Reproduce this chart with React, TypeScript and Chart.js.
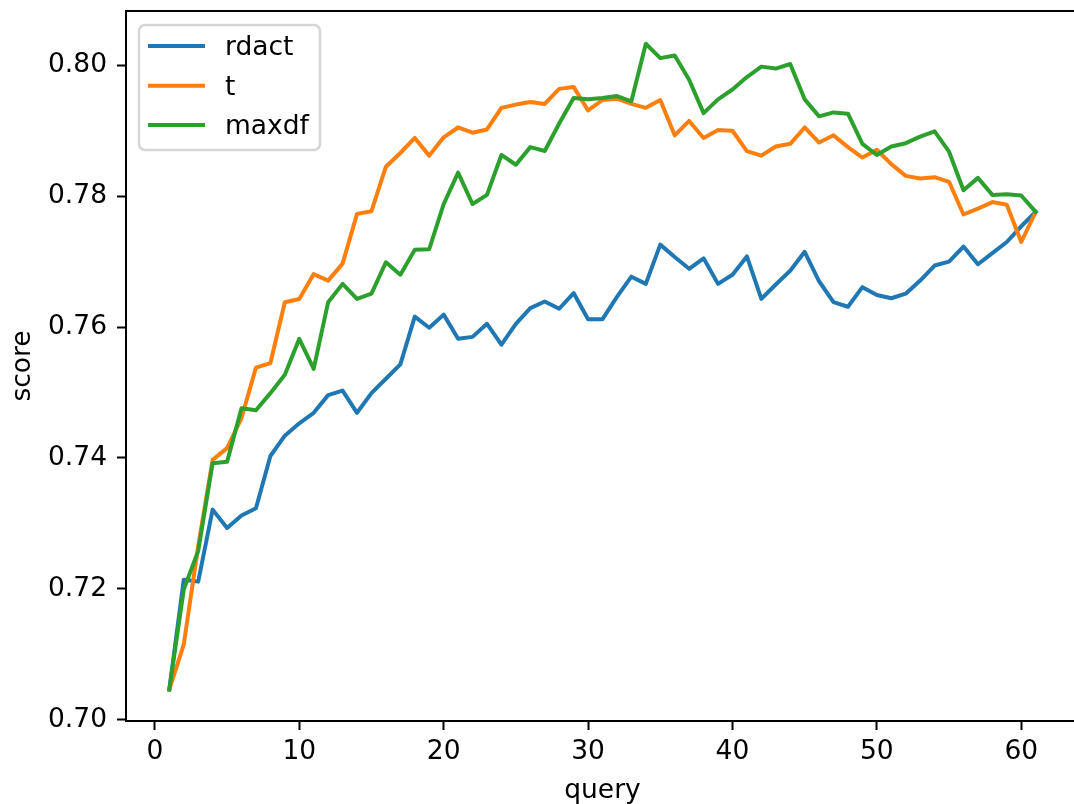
import React, { useEffect, useRef } from "react";
import { Chart, registerables } from "chart.js";

Chart.register(...registerables);

const queries = [
  1, 2, 3, 4, 5, 6, 7, 8, 9, 10, 11, 12, 13, 14, 15, 16, 17, 18, 19, 20,
  21, 22, 23, 24, 25, 26, 27, 28, 29, 30, 31, 32, 33, 34, 35, 36, 37, 38, 39, 40,
  41, 42, 43, 44, 45, 46, 47, 48, 49, 50, 51, 52, 53, 54, 55, 56, 57, 58, 59, 60, 61,
];

const rdact = [
  0.7046, 0.7214, 0.7211, 0.7321, 0.7293, 0.7312, 0.7323, 0.7403, 0.7434, 0.7453,
  0.7469, 0.7496, 0.7503, 0.7469, 0.7499, 0.7521, 0.7543, 0.7616, 0.7599, 0.7619,
  0.7582, 0.7585, 0.7605, 0.7573, 0.7605, 0.7629, 0.7639, 0.7628, 0.7652, 0.7612,
  0.7612, 0.7646, 0.7677, 0.7666, 0.7726, 0.7707, 0.7689, 0.7705, 0.7666, 0.768,
  0.7708, 0.7643, 0.7665, 0.7686, 0.7715, 0.767, 0.7638, 0.7631, 0.7661, 0.7649,
  0.7644, 0.7651, 0.7671, 0.7694, 0.77, 0.7723, 0.7696, 0.7713, 0.773, 0.7754, 0.7776,
];

const tScores = [
  0.7046, 0.7115, 0.7265, 0.7397, 0.7415, 0.7461, 0.7538, 0.7545, 0.7638, 0.7643,
  0.7681, 0.7671, 0.7697, 0.7773, 0.7777, 0.7845, 0.7866, 0.7889, 0.7862, 0.789,
  0.7905, 0.7897, 0.7902, 0.7935, 0.794, 0.7944, 0.7941, 0.7964, 0.7967, 0.7931,
  0.7947, 0.7949, 0.7941, 0.7935, 0.7947, 0.7893, 0.7915, 0.7889, 0.7901, 0.79,
  0.7869, 0.7862, 0.7876, 0.788, 0.7905, 0.7882, 0.7893, 0.7875, 0.7859, 0.7871,
  0.7849, 0.7831, 0.7827, 0.7829, 0.7822, 0.7772, 0.7781, 0.7791, 0.7787, 0.773, 0.7776,
];

const maxdf = [
  0.7046, 0.7199, 0.7258, 0.7392, 0.7394, 0.7476, 0.7473, 0.7499, 0.7527, 0.7582,
  0.7536, 0.7638, 0.7666, 0.7643, 0.7651, 0.7699, 0.768, 0.7718, 0.7719, 0.7788,
  0.7836, 0.7788, 0.7802, 0.7863, 0.7848, 0.7875, 0.7869, 0.7911, 0.795, 0.7948,
  0.795, 0.7953, 0.7945, 0.8033, 0.8011, 0.8015, 0.7978, 0.7927, 0.7948, 0.7963,
  0.7982, 0.7998, 0.7995, 0.8002, 0.7948, 0.7922, 0.7928, 0.7926, 0.788, 0.7863,
  0.7876, 0.7881, 0.7891, 0.7899, 0.7868, 0.7809, 0.7828, 0.7802, 0.7803, 0.7801, 0.7776,
];

const xTicks = [0, 10, 20, 30, 40, 50, 60];
const yTicks = [0.7, 0.72, 0.74, 0.76, 0.78, 0.8];
const seriesNames = ["rdact", "t", "maxdf"];
const seriesColors = ["#1f77b4", "#ff7f0e", "#2ca02c"];
const seriesValues = [rdact, tScores, maxdf];

const FONT_FAMILY = "'DejaVu Sans', 'Liberation Sans', sans-serif";
const FONT_SIZE = 26.5;

const framePlugin = {
  id: "mplFrame",
  afterDatasetsDraw(chart: any) {
    const { ctx, chartArea } = chart;
    ctx.save();
    // top and right spines
    ctx.strokeStyle = "#000";
    ctx.lineWidth = 2;
    ctx.beginPath();
    ctx.moveTo(chartArea.left, chartArea.top);
    ctx.lineTo(chartArea.right, chartArea.top);
    ctx.lineTo(chartArea.right, chartArea.bottom);
    ctx.stroke();

    // legend
    const bx = chartArea.left + 13;
    const by = chartArea.top + 14;
    const bw = 181;
    const bh = 125;
    ctx.beginPath();
    (ctx as any).roundRect(bx, by, bw, bh, 6);
    ctx.fillStyle = "rgba(255,255,255,0.8)";
    ctx.fill();
    ctx.lineWidth = 2.5;
    ctx.strokeStyle = "rgba(204,204,204,0.8)";
    ctx.stroke();

    const rowY = [by + 21, by + 60.7, by + 100];
    ctx.font = `${FONT_SIZE}px ${FONT_FAMILY}`;
    ctx.textAlign = "left";
    ctx.textBaseline = "alphabetic";
    for (let i = 0; i < seriesNames.length; i++) {
      ctx.strokeStyle = seriesColors[i];
      ctx.lineWidth = 4;
      ctx.lineCap = "butt";
      ctx.beginPath();
      ctx.moveTo(bx + 9, rowY[i]);
      ctx.lineTo(bx + 66, rowY[i]);
      ctx.stroke();
      ctx.fillStyle = "#000";
      ctx.fillText(seriesNames[i], bx + 86, rowY[i] + 9);
    }
    ctx.restore();
  },
};

export default function App() {
  const canvasRef = useRef<HTMLCanvasElement | null>(null);

  useEffect(() => {
    const canvas = canvasRef.current;
    if (!canvas) return;
    const datasets = seriesNames.map((name, i) => ({
      label: name,
      data: queries.map((q, j) => ({ x: q, y: seriesValues[i][j] })),
      borderColor: seriesColors[i],
      backgroundColor: seriesColors[i],
      borderWidth: 4,
      pointRadius: 0,
      pointHoverRadius: 0,
      tension: 0,
      fill: false,
      borderJoinStyle: "round" as const,
      borderCapStyle: "square" as const,
      order: seriesNames.length - i,
    }));

    const tickFont = { family: FONT_FAMILY, size: FONT_SIZE };

    const chart = new Chart(canvas, {
      type: "line",
      data: { datasets },
      plugins: [framePlugin],
      options: {
        animation: false,
        responsive: false,
        devicePixelRatio: 1,
        events: [],
        layout: { padding: { left: 0, top: 11, right: 21, bottom: 0 } },
        plugins: {
          legend: { display: false },
          tooltip: { enabled: false },
        },
        scales: {
          x: {
            type: "linear",
            min: -2,
            max: 64,
            afterBuildTicks: (scale: any) => {
              scale.ticks = xTicks.map((v) => ({ value: v }));
            },
            afterFit: (scale: any) => {
              scale.height = 83;
              scale.paddingLeft = 0;
              scale.paddingRight = 0;
            },
            ticks: {
              font: tickFont,
              color: "#000",
              padding: 6,
              maxRotation: 0,
              autoSkip: false,
              callback: (v: any) => String(v),
            },
            grid: {
              drawOnChartArea: false,
              drawTicks: true,
              tickLength: 9,
              tickWidth: 2,
              tickColor: "#000",
            },
            border: { display: true, color: "#000", width: 2 },
            title: {
              display: true,
              text: "query",
              color: "#000",
              font: tickFont,
              padding: { top: 0, bottom: -3 },
            },
          },
          y: {
            type: "linear",
            min: 0.6998,
            max: 0.8083,
            afterBuildTicks: (scale: any) => {
              scale.ticks = yTicks.map((v) => ({ value: v }));
            },
            afterFit: (scale: any) => {
              scale.width = 126;
              scale.paddingTop = 0;
              scale.paddingBottom = 0;
            },
            ticks: {
              font: tickFont,
              color: "#000",
              padding: 10,
              autoSkip: false,
              callback: (v: any) => Number(v).toFixed(2),
            },
            grid: {
              drawOnChartArea: false,
              drawTicks: true,
              tickLength: 9,
              tickWidth: 2,
              tickColor: "#000",
            },
            border: { display: true, color: "#000", width: 2 },
            title: {
              display: true,
              text: "score",
              color: "#000",
              font: tickFont,
              padding: { top: 7, bottom: 0 },
            },
          },
        },
      },
    } as any);

    return () => {
      chart.destroy();
    };
  }, []);

  return (
    <div
      style={{
        position: "absolute",
        left: 0,
        top: 0,
        width: 1074,
        height: 804,
        overflow: "hidden",
        background: "#fff",
      }}
    >
      <canvas ref={canvasRef} width={1100} height={804} style={{ display: "block" }} />
    </div>
  );
}
